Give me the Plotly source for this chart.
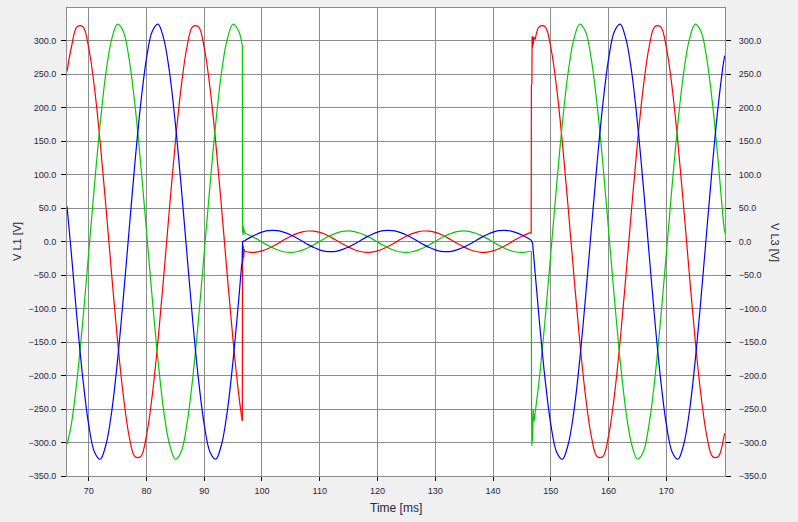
import plotly.graph_objects as go

# ---------------- data ----------------
# time grids in ms
t_pre = [66.25, 67, 68, 69, 70, 71, 72, 73, 74, 75, 76, 77, 78, 79, 80, 81, 82, 83,
         84, 85, 86, 87, 88, 89, 90, 91, 92, 93, 94, 95, 96, 96.5]
t_sag = [97, 98, 99, 100, 101, 102, 103, 104, 105, 106, 107, 108, 109, 110, 111, 112,
         113, 114, 115, 116, 117, 118, 119, 120, 121, 122, 123, 124, 125, 126, 127, 128,
         129, 130, 131, 132, 133, 134, 135, 136, 137, 138, 139, 140, 141, 142, 143, 144,
         145, 146, 146.5]
t_post = [147.3, 148, 149, 150, 151, 152, 153, 154, 155, 156, 157, 158, 159, 160, 161,
          162, 163, 164, 165, 166, 167, 168, 169, 170, 171, 172, 173, 174, 175, 176, 177,
          178, 179, 180, 180.15]

# V L1 (red)
red_pre = [254, 290, 321, 321, 290, 230, 148, 51, -51, -148, -230, -290, -321, -321, -290,
           -230, -148, -51, 51, 148, 230, 290, 321, 321, 290, 230, 148, 51, -51, -148, -230,
           -263]
red_drop_t = [96.5, 96.6, 96.63, 96.7, 96.77, 96.84, 96.92, 97]
red_drop_v = [-263, -268, -3, -30, -6, -24, -11, -14.7]
red_sag = [-14.7, -15.9, -15.6, -13.8, -10.6, -6.4, -1.5, 3.5, 8.1, 12.0, 14.7, 15.9, 15.6,
           13.8, 10.6, 6.4, 1.5, -3.5, -8.1, -12.0,
           -14.7, -15.9, -15.6, -13.8, -10.6, -6.4, -1.5, 3.5, 8.1, 12.0, 14.7, 15.9, 15.6,
           13.8, 10.6, 6.4, 1.5, -3.5, -8.1, -12.0,
           -14.7, -15.9, -15.6, -13.8, -10.6, -6.4, -1.5, 3.5, 8.1, 12.0, 13.5]
red_rise_t = [146.5, 146.6, 146.63, 146.72, 146.76, 146.82, 146.88, 146.95, 147.05, 147.3]
red_rise_v = [13.5, 12, 233, 236, 306, 290, 307, 294, 305, 302]
red_post = [302, 321, 321, 290, 230, 148, 51, -51, -148, -230, -290, -321, -321, -290, -230,
            -148, -51, 51, 148, 230, 290, 321, 321, 290, 230, 148, 51, -51, -148, -230, -290,
            -321, -321, -290, -286]

# V L2 (green)
green_pre = [-303, -273, -205, -117, -17, 84, 177, 253, 303, 325, 314, 273, 205, 117, 17,
             -84, -177, -253, -303, -325, -314, -273, -205, -117, -17, 84, 177, 253, 303,
             325, 314, 297]
green_drop_t = [96.5, 96.6, 96.63, 96.68, 96.74, 96.8, 96.88, 97]
green_drop_v = [297, 293, 14, 27, 10, 22, 13, 12.6]
green_sag = [12.6, 9.0, 4.5, -0.5, -5.4, -9.8, -13.2, -15.4, -16.0, -15.1, -12.6, -9.0, -4.5,
             0.5, 5.4, 9.8, 13.2, 15.4, 16.0, 15.1,
             12.6, 9.0, 4.5, -0.5, -5.4, -9.8, -13.2, -15.4, -16.0, -15.1, -12.6, -9.0, -4.5,
             0.5, 5.4, 9.8, 13.2, 15.4, 16.0, 15.1,
             12.6, 9.0, 4.5, -0.5, -5.4, -9.8, -13.2, -15.4, -16.0, -15.1, -14.0]
green_rise_t = [146.5, 146.62, 146.66, 146.72, 146.78, 146.85, 146.95, 147.1, 147.3]
green_rise_v = [-14.0, -15.5, -240, -305, -262, -298, -250, -268, -255]
green_post = [-255, -205, -117, -17, 84, 177, 253, 303, 325, 314, 273, 205, 117, 17, -84,
              -177, -253, -303, -325, -314, -273, -205, -117, -17, 84, 177, 253, 303, 325,
              314, 273, 205, 117, 20, 13]

# V L3 (blue)
blue_pre = [53, -17, -117, -205, -273, -314, -325, -303, -253, -177, -84, 17, 117, 205, 273,
            314, 325, 303, 253, 177, 84, -17, -117, -205, -273, -314, -325, -303, -253,
            -177, -84, -33]
blue_drop_t = [96.5, 96.58, 96.65, 97]
blue_drop_v = [-33, -30, 0, 1.5]
blue_sag = [1.5, 6.4, 10.8, 14.2, 16.4, 17.0, 16.1, 13.6, 10.0, 5.5, 0.5, -4.4, -8.8, -12.2,
            -14.4, -15.0, -14.1, -11.6, -8.0, -3.5,
            1.5, 6.4, 10.8, 14.2, 16.4, 17.0, 16.1, 13.6, 10.0, 5.5, 0.5, -4.4, -8.8, -12.2,
            -14.4, -15.0, -14.1, -11.6, -8.0, -3.5,
            1.5, 6.4, 10.8, 14.2, 16.4, 17.0, 16.1, 13.6, 10.0, 5.5, 3.0]
blue_rise_t = [146.5, 146.7, 146.85, 147.0, 147.3]
blue_rise_v = [3.0, 1, -3, -22, -48]
blue_post = [-48, -117, -205, -273, -314, -325, -303, -253, -177, -84, 17, 117, 205, 273,
             314, 325, 303, 253, 177, 84, -17, -117, -205, -273, -314, -325, -303, -253,
             -177, -84, 17, 117, 205, 273, 278]

y_ticks = [-350, -300, -250, -200, -150, -100, -50, 0, 50, 100, 150, 200, 250, 300]
x_ticks = [70, 80, 90, 100, 110, 120, 130, 140, 150, 160, 170]

# ---------------- figure ----------------
fig = go.Figure()

phases = [
    ("V L1", "#ff0000", "y", red_pre, red_drop_t, red_drop_v, red_sag, red_rise_t, red_rise_v, red_post),
    ("V L2", "#00cc00", "y", green_pre, green_drop_t, green_drop_v, green_sag, green_rise_t, green_rise_v, green_post),
    ("V L3", "#0000ff", "y2", blue_pre, blue_drop_t, blue_drop_v, blue_sag, blue_rise_t, blue_rise_v, blue_post),
]

for name, color, yax, pre, dt, dv, sag, rt, rv, post in phases:
    smooth = dict(color=color, width=1.2, shape="spline", smoothing=1)
    sharp = dict(color=color, width=1.2, shape="linear")
    for xs, ys, ln in [(t_pre, pre, smooth), (dt, dv, sharp), (t_sag, sag, smooth),
                       (rt, rv, sharp), (t_post, post, smooth)]:
        fig.add_trace(go.Scatter(x=xs, y=ys, mode="lines", line=ln, name=name,
                                 yaxis=yax, showlegend=False, hoverinfo="skip"))

font_family = "Liberation Sans, Arial, sans-serif"
tick_font = dict(family=font_family, size=9, color="#26263f")
title_font = dict(family=font_family, size=11, color="#26263f")
grid_col = "#8c8c8c"
y_range = [-350, 349]

fig.update_layout(
    width=798, height=522,
    paper_bgcolor="#f0f0f0", plot_bgcolor="#ffffff",
    margin=dict(l=67, r=73, t=8, b=46),
    showlegend=False,
    xaxis=dict(range=[66.25, 180.15], tickvals=x_ticks, showgrid=True, gridcolor=grid_col,
               gridwidth=1, zeroline=False, showline=True, linecolor=grid_col, linewidth=1,
               mirror=True, ticks="outside", ticklen=4, tickcolor="#000000",
               tickfont=tick_font, ticklabelstandoff=2),
    yaxis=dict(range=y_range, tickvals=y_ticks, tickformat=".1f", showgrid=True,
               gridcolor=grid_col, gridwidth=1, zeroline=False, showline=True,
               linecolor=grid_col, linewidth=1, mirror=True, ticks="outside", ticklen=5,
               tickcolor="#000000", tickfont=tick_font, ticklabelstandoff=3),
    yaxis2=dict(range=y_range, tickvals=y_ticks, tickformat=".1f", overlaying="y",
                side="right", showgrid=False, zeroline=False, showline=False,
                ticks="outside", ticklen=5, tickcolor="#000000", tickfont=tick_font,
                ticklabelstandoff=6),
    annotations=[
        dict(text="V L1 [V]", xref="paper", yref="paper", x=(17 - 67) / 658, y=0.5,
             showarrow=False, textangle=-90, xanchor="center", yanchor="middle",
             font=title_font),
        dict(text="V L3 [V]", xref="paper", yref="paper", x=(775 - 67) / 658, y=0.5,
             showarrow=False, textangle=90, xanchor="center", yanchor="middle",
             font=title_font),
        dict(text="Time [ms]", xref="paper", yref="paper", x=0.5, y=(476 - 508) / 468,
             showarrow=False, xanchor="center", yanchor="middle",
             font=dict(family=font_family, size=12, color="#26263f")),
    ],
)

fig.write_html(
    "out.html",
    config={"displayModeBar": False},
    post_script="document.body.style.margin='0px';document.body.style.background='#f0f0f0';",
)
